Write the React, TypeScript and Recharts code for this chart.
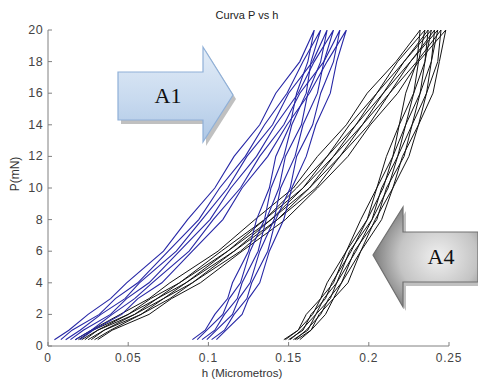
import { LineChart, Line, XAxis, YAxis } from 'recharts';

// load levels (mN) at which h was read, shared by all cycles
const loadLevels = [0.4, 1, 2, 3, 4, 6, 8, 10, 12, 14, 16, 18, 20];

const xTicks = [0, 0.05, 0.1, 0.15, 0.2, 0.25];
const xTickLabels = ['0', '0.05', '0.1', '0.15', '0.2', '0.25'];
const yTicks = [0, 2, 4, 6, 8, 10, 12, 14, 16, 18, 20];

// A1 (blue): h on loading, one row per indentation
const blueLoading = [
  [0.004, 0.013, 0.025, 0.039, 0.049, 0.072, 0.087, 0.104, 0.116, 0.132, 0.142, 0.157, 0.166],
  [0.008, 0.015, 0.032, 0.042, 0.056, 0.075, 0.094, 0.107, 0.123, 0.135, 0.149, 0.159, 0.170],
  [0.011, 0.020, 0.033, 0.048, 0.057, 0.080, 0.096, 0.112, 0.124, 0.140, 0.150, 0.165, 0.174],
  [0.014, 0.022, 0.039, 0.049, 0.063, 0.082, 0.101, 0.114, 0.130, 0.142, 0.156, 0.166, 0.178],
  [0.017, 0.027, 0.040, 0.054, 0.065, 0.088, 0.103, 0.120, 0.132, 0.147, 0.157, 0.172, 0.182],
  [0.020, 0.028, 0.046, 0.056, 0.071, 0.090, 0.109, 0.121, 0.137, 0.149, 0.163, 0.174, 0.186],
];
// A1 unloading, P from 0.4 up to 18 (the 20 point is the loading peak)
const blueUnloading = [
  [0.090, 0.098, 0.104, 0.112, 0.115, 0.125, 0.130, 0.138, 0.142, 0.151, 0.155, 0.162],
  [0.093, 0.099, 0.109, 0.113, 0.120, 0.126, 0.135, 0.139, 0.147, 0.152, 0.161, 0.164],
  [0.096, 0.104, 0.110, 0.118, 0.121, 0.131, 0.136, 0.144, 0.148, 0.158, 0.162, 0.170],
  [0.099, 0.105, 0.115, 0.119, 0.126, 0.132, 0.141, 0.145, 0.154, 0.159, 0.168, 0.172],
  [0.102, 0.110, 0.116, 0.124, 0.127, 0.137, 0.142, 0.151, 0.155, 0.165, 0.170, 0.178],
  [0.105, 0.111, 0.121, 0.125, 0.132, 0.138, 0.147, 0.152, 0.161, 0.167, 0.176, 0.180],
];

// A4 (black)
const blackLoading = [
  [0.017, 0.027, 0.045, 0.063, 0.076, 0.106, 0.129, 0.153, 0.168, 0.186, 0.199, 0.217, 0.232],
  [0.019, 0.028, 0.050, 0.064, 0.082, 0.108, 0.135, 0.155, 0.174, 0.188, 0.205, 0.218, 0.235],
  [0.021, 0.031, 0.050, 0.068, 0.082, 0.112, 0.135, 0.159, 0.174, 0.192, 0.205, 0.222, 0.237],
  [0.023, 0.031, 0.054, 0.068, 0.086, 0.112, 0.139, 0.159, 0.178, 0.192, 0.209, 0.222, 0.239],
  [0.025, 0.035, 0.054, 0.072, 0.086, 0.116, 0.139, 0.163, 0.178, 0.196, 0.209, 0.226, 0.241],
  [0.027, 0.035, 0.058, 0.072, 0.090, 0.116, 0.143, 0.163, 0.182, 0.196, 0.213, 0.226, 0.243],
  [0.029, 0.039, 0.058, 0.076, 0.090, 0.120, 0.143, 0.167, 0.182, 0.200, 0.213, 0.230, 0.245],
  [0.031, 0.040, 0.063, 0.077, 0.095, 0.121, 0.148, 0.168, 0.187, 0.201, 0.218, 0.231, 0.248],
];
const blackUnloading = [
  [0.147, 0.156, 0.161, 0.170, 0.174, 0.186, 0.195, 0.205, 0.211, 0.219, 0.223, 0.230],
  [0.148, 0.156, 0.165, 0.170, 0.178, 0.186, 0.199, 0.205, 0.215, 0.219, 0.228, 0.231],
  [0.150, 0.159, 0.164, 0.173, 0.177, 0.189, 0.199, 0.209, 0.215, 0.223, 0.228, 0.235],
  [0.151, 0.158, 0.167, 0.172, 0.180, 0.188, 0.202, 0.208, 0.218, 0.223, 0.232, 0.235],
  [0.153, 0.162, 0.167, 0.176, 0.180, 0.192, 0.202, 0.212, 0.218, 0.227, 0.232, 0.239],
  [0.154, 0.161, 0.170, 0.175, 0.183, 0.191, 0.205, 0.211, 0.222, 0.227, 0.236, 0.239],
  [0.155, 0.164, 0.169, 0.178, 0.183, 0.195, 0.204, 0.215, 0.221, 0.231, 0.236, 0.243],
  [0.157, 0.164, 0.173, 0.178, 0.187, 0.195, 0.208, 0.215, 0.225, 0.231, 0.240, 0.244],
];

const FONT = 'Arial, "Liberation Sans", sans-serif';
const SERIF = '"Liberation Serif", "Times New Roman", serif';

function buildCycle(load: number[], unload: number[]) {
  const up = load.map((h, i) => ({ h, p: loadLevels[i] }));
  const down = unload.map((h, i) => ({ h, p: loadLevels[i] })).reverse();
  return [...up, ...down];
}

const blueCycles = blueLoading.map((l, i) => buildCycle(l, blueUnloading[i]));
const blackCycles = blackLoading.map((l, i) => buildCycle(l, blackUnloading[i]));

function XTick({ x, y, payload }: any) {
  const idx = xTicks.indexOf(payload.value);
  return (
    <g>
      <line x1={x} x2={x} y1={y} y2={y - 4} stroke="#808080" />
      <text
        x={x}
        y={y + 16}
        textAnchor="middle"
        fontSize={12}
        letterSpacing={0.8}
        fill="#444"
        fontFamily={FONT}
      >
        {idx >= 0 ? xTickLabels[idx] : payload.value}
      </text>
    </g>
  );
}

function YTick({ x, y, payload }: any) {
  return (
    <g>
      <line x1={x} x2={x + 4} y1={y} y2={y} stroke="#808080" />
      <text
        x={x - 5}
        y={y + 4}
        textAnchor="end"
        fontSize={12.5}
        letterSpacing={0.4}
        fill="#444"
        fontFamily={FONT}
      >
        {payload.value}
      </text>
    </g>
  );
}

export default function App() {
  return (
    <div style={{ position: 'absolute', left: 0, top: 0, width: 478, height: 379, background: '#fff' }}>
      <LineChart width={478} height={379} margin={{ top: 30, right: 29, bottom: 3, left: 8 }}>
        <XAxis
          type="number"
          dataKey="h"
          domain={[0, 0.25]}
          ticks={xTicks}
          allowDataOverflow
          height={30}
          tickSize={0}
          tickMargin={0}
          tickLine={false}
          axisLine={{ stroke: '#808080' }}
          tick={<XTick />}
        />
        <YAxis
          type="number"
          dataKey="p"
          domain={[0, 20]}
          ticks={yTicks}
          allowDataOverflow
          width={40}
          tickSize={0}
          tickMargin={0}
          tickLine={false}
          axisLine={{ stroke: '#808080' }}
          tick={<YTick />}
        />
        {blackCycles.map((d, i) => (
          <Line
            key={`k-${i}`}
            data={d}
            dataKey="p"
            type="linear"
            stroke="#141414"
            strokeWidth={1}
            dot={false}
            isAnimationActive={false}
          />
        ))}
        {blueCycles.map((d, i) => (
          <Line
            key={`b-${i}`}
            data={d}
            dataKey="p"
            type="linear"
            stroke="#2626a6"
            strokeWidth={1.1}
            dot={false}
            isAnimationActive={false}
          />
        ))}
      </LineChart>
      <svg
        width={478}
        height={379}
        style={{ position: 'absolute', left: 0, top: 0, pointerEvents: 'none' }}
      >
        <defs>
          <linearGradient id="a1fill" x1="0" y1="0" x2="0" y2="1">
            <stop offset="0%" stopColor="#e2ecf7" />
            <stop offset="55%" stopColor="#c8daef" />
            <stop offset="100%" stopColor="#aec7e5" />
          </linearGradient>
          <radialGradient id="a4fill" cx="0.62" cy="0.5" r="0.62">
            <stop offset="0%" stopColor="#f0f0f0" />
            <stop offset="60%" stopColor="#c4c4c4" />
            <stop offset="100%" stopColor="#7c7c7c" />
          </radialGradient>
        </defs>
        <text x={247} y={19} textAnchor="middle" fontSize={11} fill="#222" fontFamily={FONT}>
          Curva P vs h
        </text>
        <text x={242} y={377} textAnchor="middle" fontSize={11.5} fill="#333" fontFamily={FONT}>
          h (Micrometros)
        </text>
        <text
          x={19}
          y={174}
          textAnchor="middle"
          fontSize={12}
          fill="#333"
          fontFamily={FONT}
          transform="rotate(-90 19 174)"
        >
          P(mN)
        </text>

        {/* A1 arrow */}
        <polygon
          points="121,76 206,76 206,51 236,99 206,146 206,124 121,124"
          fill="#8c8c8c"
          opacity={0.55}
        />
        <polygon
          points="118,72 203,72 203,47 233,95 203,142 203,120 118,120"
          fill="url(#a1fill)"
          stroke="#8fb0d8"
          strokeWidth={1.2}
        />
        <text x={168} y={103} textAnchor="middle" fontSize={22} fill="#111" fontFamily={SERIF}>
          A1
        </text>

        {/* A4 arrow */}
        <polygon
          points="376,259 406,211 406,236 478,236 478,286 406,286 406,311"
          fill="#8c8c8c"
          opacity={0.55}
        />
        <polygon
          points="373,255 403,207 403,232 478,232 478,282 403,282 403,307"
          fill="url(#a4fill)"
          stroke="#707070"
          strokeWidth={1.2}
        />
        <text x={441} y={264} textAnchor="middle" fontSize={22} fill="#111" fontFamily={SERIF}>
          A4
        </text>
      </svg>
    </div>
  );
}
